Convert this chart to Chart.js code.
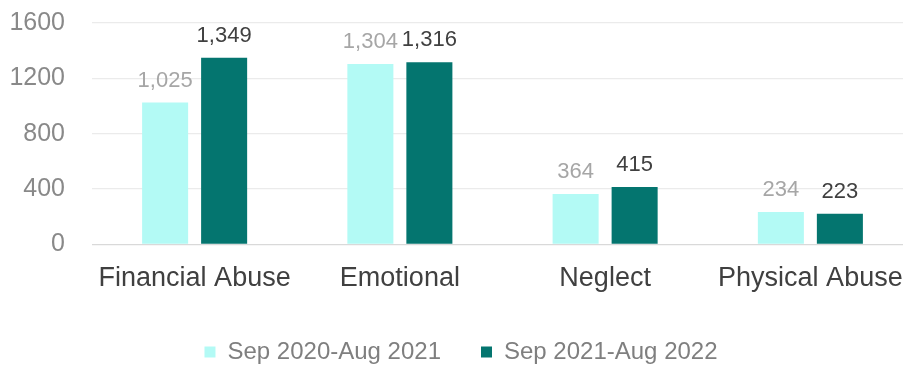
<!DOCTYPE html>
<html>
<head>
<meta charset="utf-8">
<script src="https://cdn.jsdelivr.net/npm/chart.js@4"></script>
<style>
html,body{margin:0;padding:0;background:#fff;overflow:hidden;width:903px;height:365px;}
#wrap{position:absolute;left:0;top:0;width:913px;height:374px;}
</style>
</head>
<body>
<div id="wrap"><canvas id="c" width="913" height="374"></canvas></div>
<script>
const categories = ["Financial Abuse", "Emotional", "Neglect", "Physical Abuse"];
const seriesNames = ["Sep 2020-Aug 2021", "Sep 2021-Aug 2022"];
const series2021 = [1025, 1304, 364, 234];
const series2022 = [1349, 1316, 415, 223];
const yTicks = [0, 400, 800, 1200, 1600];

const FONT = "'Liberation Sans', Arial, sans-serif";
const labelColors = ['#a6a6a6', '#404040'];

const dataLabels = {
  id: 'dataLabels',
  afterDatasetsDraw(chart) {
    const ctx = chart.ctx;
    ctx.save();
    ctx.font = "22px " + FONT;
    ctx.textAlign = 'center';
    ctx.textBaseline = 'alphabetic';
    chart.data.datasets.forEach((ds, di) => {
      const meta = chart.getDatasetMeta(di);
      ctx.fillStyle = labelColors[di];
      meta.data.forEach((el, i) => {
        ctx.fillText(ds.data[i].toLocaleString('en-US'), el.x, el.y - 16);
      });
    });
    ctx.restore();
  }
};

new Chart(document.getElementById('c'), {
  type: 'bar',
  data: {
    labels: categories,
    datasets: [
      { label: seriesNames[0], data: series2021, backgroundColor: '#b3faf5', categoryPercentage: 0.575, barPercentage: 0.78 },
      { label: seriesNames[1], data: series2022, backgroundColor: '#04756f', categoryPercentage: 0.575, barPercentage: 0.78 }
    ]
  },
  options: {
    responsive: false,
    animation: false,
    layout: { padding: { left: 9, right: 0, top: 23, bottom: 0 } },
    plugins: {
      tooltip: { enabled: false },
      legend: {
        position: 'bottom',
        labels: {
          boxWidth: 11, boxHeight: 11, padding: 40,
          color: '#7f7f7f',
          font: { family: FONT, size: 24 }
        }
      }
    },
    scales: {
      x: {
        grid: { display: false },
        border: { display: false },
        ticks: { color: '#404040', font: { family: FONT, size: 27 }, padding: 10, maxRotation: 0, autoSkip: false },
        afterFit(scale) { scale.height = 55.5; }
      },
      y: {
        min: 0, max: 1600,
        afterBuildTicks(scale) { scale.ticks = yTicks.map(v => ({ value: v })); },
        grid: { color: (c) => c.tick && c.tick.value === 0 ? '#d9d9d9' : '#ebebeb', drawTicks: false, lineWidth: 1.3 },
        border: { display: false },
        ticks: { color: '#898989', font: { family: FONT, size: 25 }, padding: 27, callback: (v) => String(v) },
        afterFit(scale) { scale.width = 83; scale.paddingTop = 15; scale.paddingBottom = 15; }
      }
    }
  },
  plugins: [dataLabels]
});
</script>
</body>
</html>
